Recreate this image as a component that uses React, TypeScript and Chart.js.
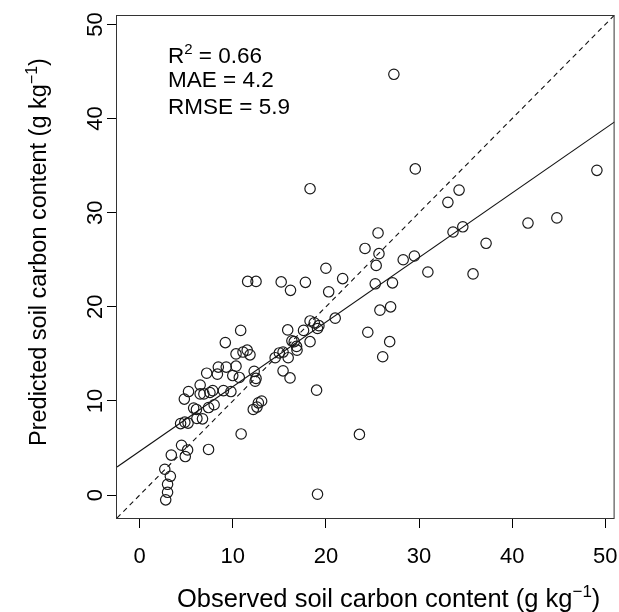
import React, { useEffect, useRef } from "react";
import { Chart, registerables } from "chart.js";
Chart.register(...registerables);

const FONT = '"Liberation Sans", Arial, Helvetica, sans-serif';

// Observed (x) and predicted (y) soil carbon content, g kg^-1
const OBSERVED = [
  2.8, 3.0, 3.0, 3.3, 2.7, 3.4, 4.5, 5.15, 4.9, 7.4,
  10.9, 4.4, 4.85, 5.2, 6.15, 6.75, 5.8, 6.1, 7.4, 8.0,
  4.8, 5.25, 6.5, 6.9, 7.55, 7.85, 9.0, 9.8, 6.5, 7.2,
  8.35, 8.45, 9.3, 10.35, 10.0, 10.7, 12.3, 12.5, 12.4, 12.2,
  12.6, 12.75, 13.1, 10.35, 11.1, 11.55, 11.85, 9.2, 10.85, 11.6,
  12.5, 15.2, 16.2, 17.8, 20.0, 21.8, 20.3, 21.0, 14.55, 15.0,
  15.4, 15.95, 15.4, 16.15, 15.9, 17.6, 16.35, 16.6, 16.85, 16.9,
  18.3, 18.3, 18.75, 19.25, 19.1, 19.0, 19.1, 23.6, 18.3, 27.3,
  29.6, 49.1, 34.3, 33.1, 25.6, 24.2, 25.7, 33.65, 34.7, 41.7,
  44.8, 37.2, 28.3, 29.5, 25.4, 30.95, 35.8, 25.3, 27.15, 25.8,
  26.95, 24.5, 26.85, 26.1,
];
const PREDICTED = [
  -0.5, 0.3, 1.15, 2.0, 2.75, 4.25, 5.3, 4.8, 4.1, 4.85,
  6.5, 7.6, 7.75, 7.65, 8.15, 8.1, 9.25, 9.1, 9.3, 9.6,
  10.2, 11.0, 10.75, 10.75, 10.9, 11.1, 11.1, 11.0, 11.7, 12.95,
  12.85, 13.6, 13.6, 13.7, 12.7, 12.5, 13.15, 12.4, 12.1, 9.1,
  9.35, 9.8, 10.0, 15.0, 15.2, 15.4, 14.9, 16.2, 17.5, 22.7,
  22.7, 22.65, 21.75, 22.6, 24.1, 23.0, 21.6, 18.8, 14.6, 15.1,
  15.2, 14.6, 13.2, 12.45, 17.55, 17.5, 16.4, 16.3, 15.8, 15.4,
  16.3, 18.5, 18.3, 18.0, 17.7, 11.15, 0.1, 6.45, 32.55, 44.7,
  34.65, 34.5, 32.4, 31.1, 27.85, 26.2, 25.65, 27.95, 28.5, 28.9,
  29.45, 26.75, 25.0, 25.4, 24.4, 23.7, 23.5, 22.45, 22.55, 19.65,
  20.0, 17.3, 16.3, 14.7,
];

const AXIS_MIN = -2.43;
const AXIS_MAX = 51.0;
const X_TICKS = [0, 10, 20, 30, 40, 50];
const Y_TICKS = [0, 10, 20, 30, 40, 50];

// fitted regression line: predicted = intercept + slope * observed
const REG_INTERCEPT = 4.66;
const REG_SLOPE = 0.686;

const STAT_LABELS = ["R", "MAE", "RMSE"];
const STAT_SUPS = ["2", "", ""];
const STAT_VALUES = ["0.66", "4.2", "5.9"];

const X_TITLE = "Observed soil carbon content (g kg";
const Y_TITLE = "Predicted soil carbon content (g kg";
const UNIT_SUP = "\u22121";

type Seg = { text: string; size: number; rise: number };

function drawSegs(ctx: CanvasRenderingContext2D, segs: Seg[], x: number, y: number, align: "left" | "center") {
  let total = 0;
  const widths = segs.map((s) => {
    ctx.font = `${s.size}px ${FONT}`;
    const w = ctx.measureText(s.text).width;
    total += w;
    return w;
  });
  let cx = align === "center" ? x - total / 2 : x;
  ctx.textAlign = "left";
  ctx.textBaseline = "alphabetic";
  segs.forEach((s, i) => {
    ctx.font = `${s.size}px ${FONT}`;
    ctx.fillText(s.text, cx, y - s.rise);
    cx += widths[i];
  });
}

const decorPlugin = {
  id: "decor",
  afterDraw(chart: any) {
    const ctx: CanvasRenderingContext2D = chart.ctx;
    const area = chart.chartArea;
    const xScale = chart.scales.x;
    const yScale = chart.scales.y;
    ctx.save();
    // plot box
    ctx.strokeStyle = "#333";
    ctx.lineWidth = 1;
    ctx.strokeRect(area.left - 0.5, area.top + 0.5, area.right - area.left, area.bottom - area.top);

    ctx.fillStyle = "#000";
    // x tick labels
    ctx.font = `22px ${FONT}`;
    ctx.textAlign = "center";
    ctx.textBaseline = "alphabetic";
    X_TICKS.forEach((v) => {
      ctx.fillText(String(v), xScale.getPixelForValue(v), area.bottom + 45);
    });
    // y tick labels (rotated, R style)
    ctx.textBaseline = "middle";
    Y_TICKS.forEach((v) => {
      const py = yScale.getPixelForValue(v);
      ctx.save();
      ctx.translate(area.left - 21, py);
      ctx.rotate(-Math.PI / 2);
      ctx.fillText(String(v), 0, 0);
      ctx.restore();
    });

    // x title
    drawSegs(
      ctx,
      [
        { text: X_TITLE, size: 25.5, rise: 0 },
        { text: UNIT_SUP, size: 17, rise: 10 },
        { text: ")", size: 25.5, rise: 0 },
      ],
      177,
      607,
      "left"
    );
    // y title
    ctx.save();
    ctx.translate(46, 446);
    ctx.rotate(-Math.PI / 2);
    drawSegs(
      ctx,
      [
        { text: Y_TITLE, size: 23.5, rise: 0 },
        { text: UNIT_SUP, size: 16, rise: 9 },
        { text: ")", size: 23.5, rise: 0 },
      ],
      0,
      0,
      "left"
    );
    ctx.restore();

    // stats
    const baselines = [48, 72, 99];
    STAT_LABELS.forEach((lab, i) => {
      const segs: Seg[] = [{ text: lab, size: 22.5, rise: 0 }];
      if (STAT_SUPS[i]) segs.push({ text: STAT_SUPS[i], size: 15, rise: 9 });
      segs.push({ text: " = " + STAT_VALUES[i], size: 22.5, rise: 0 });
      drawSegs(ctx, segs, area.left + 51, area.top + baselines[i], "left");
    });
    ctx.restore();
  },
};

export default function App() {
  const ref = useRef<HTMLCanvasElement | null>(null);
  useEffect(() => {
    if (!ref.current) return;
    const points = OBSERVED.map((x, i) => ({ x, y: PREDICTED[i] }));
    const oneToOne = [
      { x: AXIS_MIN, y: AXIS_MIN },
      { x: AXIS_MAX, y: AXIS_MAX },
    ];
    const regLine = [
      { x: AXIS_MIN, y: REG_INTERCEPT + REG_SLOPE * AXIS_MIN },
      { x: AXIS_MAX, y: REG_INTERCEPT + REG_SLOPE * AXIS_MAX },
    ];
    const chart = new Chart(ref.current, {
      type: "scatter",
      data: {
        datasets: [
          {
            data: points,
            pointStyle: "circle",
            pointRadius: 5.2,
            pointHoverRadius: 5.2,
            borderColor: "#1a1a1a",
            backgroundColor: "rgba(0,0,0,0)",
            pointBorderWidth: 1.2,
            showLine: false,
          } as any,
          {
            type: "line",
            data: oneToOne,
            borderColor: "#111",
            borderWidth: 1.1,
            borderDash: [5, 4],
            pointRadius: 0,
            fill: false,
          } as any,
          {
            type: "line",
            data: regLine,
            borderColor: "#111",
            borderWidth: 1.1,
            pointRadius: 0,
            fill: false,
          } as any,
        ],
      },
      options: {
        responsive: false,
        animation: false,
        devicePixelRatio: 1,
        layout: { padding: { top: 15, right: 3, left: 0, bottom: 0 } },
        plugins: { legend: { display: false }, tooltip: { enabled: false } },
        scales: {
          x: {
            type: "linear",
            min: AXIS_MIN,
            max: AXIS_MAX,
            afterBuildTicks: (s: any) => {
              s.ticks = X_TICKS.map((v) => ({ value: v }));
            },
            afterFit: (s: any) => {
              s.height = 94;
            },
            grid: { drawOnChartArea: false, drawTicks: true, tickLength: 10, color: "#000", lineWidth: 1 },
            border: { display: false },
            ticks: { display: false },
          },
          y: {
            type: "linear",
            min: AXIS_MIN,
            max: AXIS_MAX,
            afterBuildTicks: (s: any) => {
              s.ticks = Y_TICKS.map((v) => ({ value: v }));
            },
            afterFit: (s: any) => {
              s.width = 117;
            },
            grid: { drawOnChartArea: false, drawTicks: true, tickLength: 10, color: "#000", lineWidth: 1 },
            border: { display: false },
            ticks: { display: false },
          },
        },
      },
      plugins: [decorPlugin],
    } as any);
    return () => chart.destroy();
  }, []);
  return (
    <div style={{ position: "absolute", left: 0, top: 0, width: 619, height: 612, overflow: "hidden", background: "#fff" }}>
      <canvas ref={ref} width={621} height={612} style={{ display: "block" }} />
    </div>
  );
}
